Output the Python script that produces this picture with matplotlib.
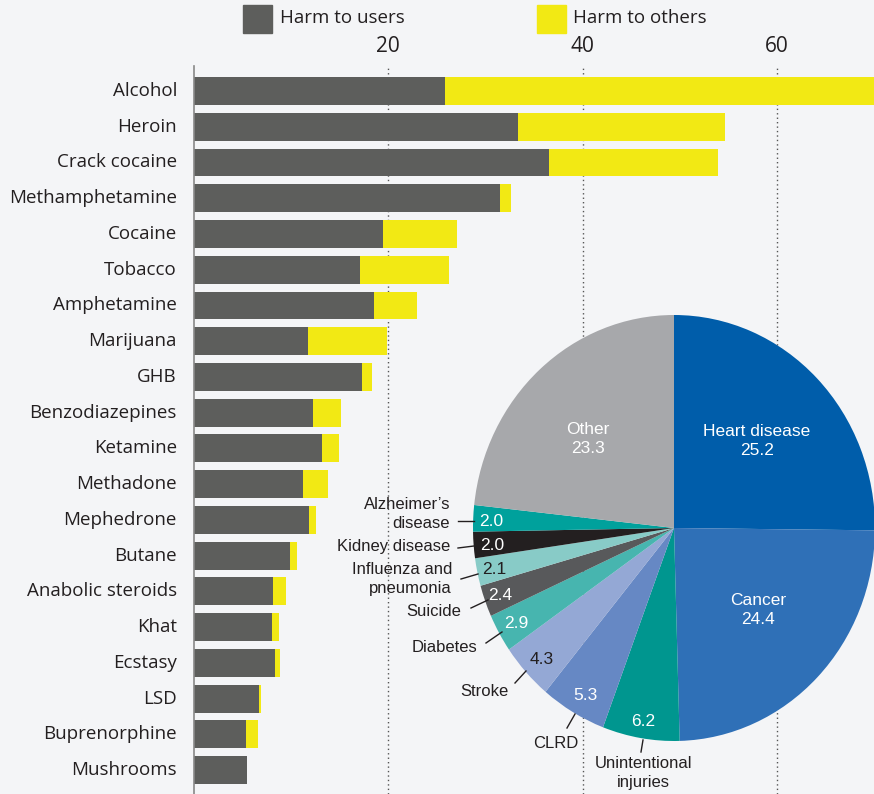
import matplotlib
matplotlib.use("Agg")
import matplotlib.pyplot as plt
from matplotlib.lines import Line2D
from matplotlib.patches import Rectangle

# ---------------- data ----------------
drugs = ["Alcohol", "Heroin", "Crack cocaine", "Methamphetamine", "Cocaine",
         "Tobacco", "Amphetamine", "Marijuana", "GHB", "Benzodiazepines",
         "Ketamine", "Methadone", "Mephedrone", "Butane", "Anabolic steroids",
         "Khat", "Ecstasy", "LSD", "Buprenorphine", "Mushrooms"]
harm_users = [25.9, 33.4, 36.6, 31.5, 19.5, 17.1, 18.6, 11.8, 17.3, 12.3,
              13.2, 11.3, 11.9, 9.9, 8.2, 8.1, 8.4, 6.7, 5.4, 5.5]
harm_others = [46.1, 21.3, 17.3, 1.1, 7.6, 9.2, 4.4, 8.1, 1.1, 2.9,
               1.8, 2.5, 0.7, 0.7, 1.3, 0.7, 0.5, 0.2, 1.2, 0.0]
x_ticks = [20, 40, 60]

causes = ["Heart disease", "Cancer", "Unintentional injuries", "CLRD", "Stroke",
          "Diabetes", "Suicide", "Influenza and pneumonia", "Kidney disease",
          "Alzheimer's disease", "Other"]
cause_share = [25.2, 24.4, 6.2, 5.3, 4.3, 2.9, 2.4, 2.1, 2.0, 2.0, 23.3]
cause_colors = ["#005DAA", "#2F70B7", "#00968F", "#6688C4", "#94A8D5",
                "#47B5AF", "#58595B", "#88CBC7", "#231F20", "#00A19C", "#A7A8AB"]

# ---------------- figure ----------------
W, H = 874, 794
BG = "#F4F5F7"
GRAY = "#5D5E5C"
YEL = "#F2E914"
fig = plt.figure(figsize=(W / 100, H / 100), dpi=100, facecolor=BG)

def fx(x):
    return x / W

def fy(y):
    return 1 - y / H

# bar axes
x0, s = 193.5, 9.725
ax = fig.add_axes([fx(x0), 0, 1 - fx(x0), fy(66)])
ax.set_facecolor(BG)
n = len(drugs)
ypos = list(range(n))
ax.barh(ypos, harm_users, height=0.78, color=GRAY, zorder=2)
ax.barh(ypos, harm_others, left=harm_users, height=0.78, color=YEL, zorder=2)
ax.set_xlim(0, (W - x0) / s)
ax.set_ylim(n - 1 + 0.67, -0.70)
ax.set_xticks(x_ticks)
ax.set_xticklabels([str(t) for t in x_ticks])
ax.xaxis.tick_top()
ax.tick_params(axis="x", length=0, pad=6.5, labelsize=15, labelcolor="#231F20")
for lab in ax.get_xticklabels():
    lab.set_fontfamily("Open Sans")
ax.set_yticks([])
ax.grid(axis="x", linestyle=(0, (1, 2.2)), color="#555555", linewidth=1, zorder=0)
for sp in ["top", "right", "bottom"]:
    ax.spines[sp].set_visible(False)
ax.spines["left"].set_color("#888888")
ax.spines["left"].set_linewidth(1.2)

# category labels
for i, d in enumerate(drugs):
    ax.text(-1.7, i, d, ha="right", va="center", fontsize=13.5,
            family="Open Sans", color="#231F20")

# legend
fig.add_artist(Rectangle((fx(243), fy(33)), fx(29), 28 / H, color=GRAY,
                         transform=fig.transFigure))
fig.text(fx(280), fy(18), "Harm to users", ha="left", va="center",
         fontsize=13.5, family="Open Sans", color="#231F20")
fig.add_artist(Rectangle((fx(537), fy(33)), fx(29), 28 / H, color=YEL,
                         transform=fig.transFigure))
fig.text(fx(573), fy(18), "Harm to others", ha="left", va="center",
         fontsize=13.5, family="Open Sans", color="#231F20")

# pie (slightly elliptical as in reference)
cx, cy, rx, ry = 674, 528, 201, 213
axp = fig.add_axes([fx(cx - rx), fy(cy + ry), 2 * rx / W, 2 * ry / H])
axp.pie(cause_share, colors=cause_colors, startangle=90, counterclock=False,
        radius=1, wedgeprops=dict(linewidth=0))
axp.set_aspect("auto")
axp.set_xlim(-1, 1)
axp.set_ylim(-1, 1)
axp.patch.set_visible(False)
axp.axis("off")

PF = "Liberation Sans"
# inside labels: (text, x, y, color)
inside = [
    ("Heart disease\n25.2", 757, 441, "white"),
    ("Cancer\n24.4", 758, 610, "white"),
    ("Other\n23.3", 588, 439, "white"),
    ("6.2", 643, 722, "white"),
    ("5.3", 585, 696, "white"),
    ("4.3", 542, 659, "#231F20"),
    ("2.9", 516, 623, "white"),
    ("2.4", 500, 596, "white"),
    ("2.1", 494, 570, "#231F20"),
    ("2.0", 492, 546, "white"),
    ("2.0", 491, 522, "white"),
]
for t, x, y, c in inside:
    fig.text(fx(x), fy(y), t, ha="center", va="center", color=c,
             fontsize=12.5, family=PF, linespacing=1.3)

# outer labels: (text, x, y, ha, line)
outer = [
    ("Alzheimer\u2019s\ndisease", 450, 514, "right", (458, 521, 474, 521)),
    ("Kidney disease", 450, 547, "right", (458, 548, 474, 546)),
    ("Influenza and\npneumonia", 452, 579, "right", (461, 579, 478, 574)),
    ("Suicide", 461, 612, "right", (471, 608, 488, 600)),
    ("Diabetes", 477, 648, "right", (486, 643, 502, 632)),
    ("Stroke", 509, 692, "right", (515, 683, 526, 671)),
    ("CLRD", 556, 744, "center", (567, 728, 575, 714)),
    ("Unintentional\ninjuries", 643, 773, "center", (643, 740, 641, 752)),
]
for t, x, y, ha, ln in outer:
    fig.text(fx(x), fy(y), t, ha=ha, va="center", color="#231F20",
             fontsize=12, family=PF, linespacing=1.25)
    x1, y1, x2, y2 = ln
    fig.add_artist(Line2D([fx(x1), fx(x2)], [fy(y1), fy(y2)],
                          transform=fig.transFigure, color="#231F20", lw=1))

fig.savefig("out.png", dpi=100, facecolor=BG)
